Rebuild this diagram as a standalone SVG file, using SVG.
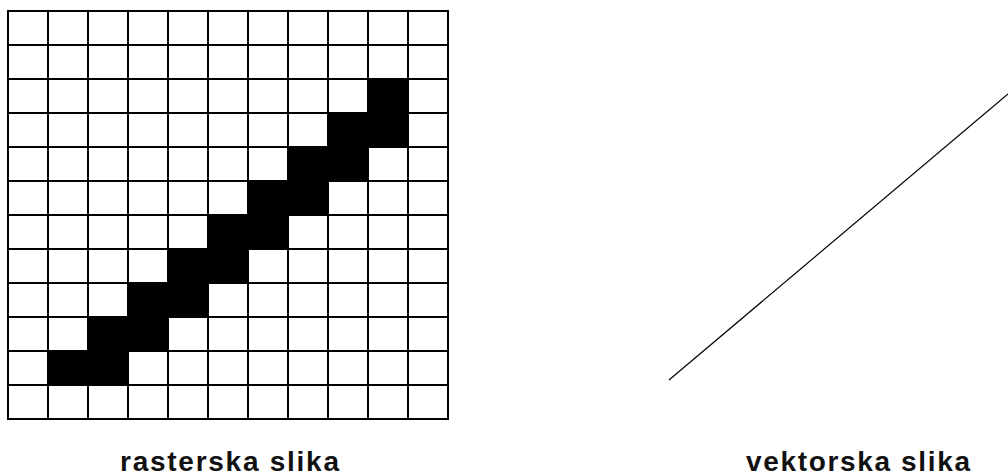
<svg xmlns="http://www.w3.org/2000/svg" width="1008" height="476" viewBox="0 0 1008 476">
<style>
.grid line{stroke:#000;stroke-width:2}
.px{fill:#000}
.lbl{font-family:"Liberation Sans",Arial,sans-serif;font-weight:bold;font-size:28px;fill:#111}
</style>
<rect width="1008" height="476" fill="#fff"/>
<g id="raster">
<g class="px">
<rect x="368" y="79" width="40" height="34"/>
<rect x="328" y="113" width="80" height="34"/>
<rect x="288" y="147" width="80" height="34"/>
<rect x="248" y="181" width="80" height="34"/>
<rect x="208" y="215" width="80" height="34"/>
<rect x="168" y="249" width="80" height="34"/>
<rect x="128" y="283" width="80" height="34"/>
<rect x="88" y="317" width="80" height="34"/>
<rect x="48" y="351" width="80" height="34"/>
</g>
<g class="grid">
<line x1="8" y1="10" x2="8" y2="420"/>
<line x1="48" y1="10" x2="48" y2="420"/>
<line x1="88" y1="10" x2="88" y2="420"/>
<line x1="128" y1="10" x2="128" y2="420"/>
<line x1="168" y1="10" x2="168" y2="420"/>
<line x1="208" y1="10" x2="208" y2="420"/>
<line x1="248" y1="10" x2="248" y2="420"/>
<line x1="288" y1="10" x2="288" y2="420"/>
<line x1="328" y1="10" x2="328" y2="420"/>
<line x1="368" y1="10" x2="368" y2="420"/>
<line x1="408" y1="10" x2="408" y2="420"/>
<line x1="448" y1="10" x2="448" y2="420"/>
<line x1="7" y1="11" x2="449" y2="11"/>
<line x1="7" y1="45" x2="449" y2="45"/>
<line x1="7" y1="79" x2="449" y2="79"/>
<line x1="7" y1="113" x2="449" y2="113"/>
<line x1="7" y1="147" x2="449" y2="147"/>
<line x1="7" y1="181" x2="449" y2="181"/>
<line x1="7" y1="215" x2="449" y2="215"/>
<line x1="7" y1="249" x2="449" y2="249"/>
<line x1="7" y1="283" x2="449" y2="283"/>
<line x1="7" y1="317" x2="449" y2="317"/>
<line x1="7" y1="351" x2="449" y2="351"/>
<line x1="7" y1="385" x2="449" y2="385"/>
<line x1="7" y1="419" x2="449" y2="419"/>
</g>
<text class="lbl" x="120" y="471" textLength="219" lengthAdjust="spacing">rasterska slika</text>
</g>
<g id="vector">
<line x1="669" y1="380" x2="1008" y2="94" stroke="#000" stroke-width="1.2"/>
<text class="lbl" x="746" y="471" textLength="224" lengthAdjust="spacing">vektorska slika</text>
</g>
</svg>
